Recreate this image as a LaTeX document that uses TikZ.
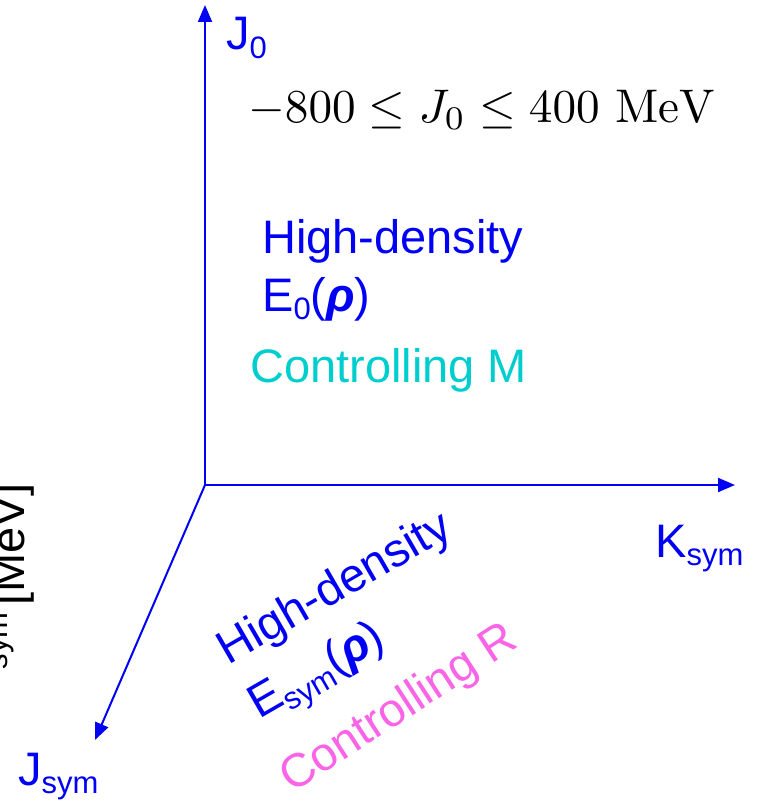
\documentclass[tikz,border=0pt]{standalone}
\usepackage{graphicx}
\usepackage{fontspec}
\newfontfamily\arial{Liberation Sans}
\usetikzlibrary{arrows.meta}
\definecolor{axblue}{RGB}{0,0,245}
\definecolor{txtblue}{RGB}{0,0,245}
\definecolor{cyanM}{RGB}{0,206,206}
\definecolor{pinkR}{RGB}{250,100,230}
\newcommand\sbt[1]{\raisebox{-0.19em}{\fontsize{31}{31}\selectfont #1}}
\begin{document}
\begin{tikzpicture}[x=1pt,y=-1pt,
  axis/.style={draw=axblue, line width=2pt, -{Triangle[length=17pt,width=14pt]}},
  lbl/.style={inner sep=0pt, anchor=base west, font=\arial\fontsize{47}{50}\selectfont}]
\useasboundingbox (0,0) rectangle (757,800);
\clip (0,0) rectangle (757,800);
\coordinate (O) at (205,485);
\coordinate (Jtop) at (205,5);
\coordinate (Kend) at (735,485);
\coordinate (Jsend) at (95,740);
\draw[axis] (O) -- (Jtop);
\draw[axis] (O) -- (Kend);
\draw[axis] (O) -- (Jsend);
\node[lbl, txtblue] (lJ0) at (226,50) {J\sbt{0}};
\node[lbl, txtblue] (lK) at (655,557) {K\sbt{sym}};
\node[lbl, txtblue] (lJs) at (18,785) {J\sbt{sym}};
\node[inner sep=0pt, anchor=base west] (rng) at (248,122) {\scalebox{4.72}{$-800\le J_0\le 400\ \mathrm{MeV}$}};
\node[lbl, txtblue] (hd1) at (262,253) {High-density};
\node[lbl, txtblue] (e01) at (262,311) {E\sbt{0}({\bfseries\itshape ρ})};
\node[lbl, cyanM] (cm) at (250,382) {Controlling M};
\node[lbl, txtblue, rotate=30] (hd2) at (228,666) {High-density};
\node[lbl, txtblue, rotate=30] (es2) at (259,720) {E\sbt{sym}({\bfseries\itshape ρ})};
\node[lbl, pinkR, rotate=33] (cr) at (292,794) {Controlling R};
\node[inner sep=0pt, anchor=base east, rotate=90, font=\arial\fontsize{47}{50}\selectfont] (mev) at (24,483) {[MeV]};
\node[inner sep=0pt, anchor=base east, rotate=90, font=\arial\fontsize{31}{31}\selectfont] (sym) at (8,612) {sym};
\end{tikzpicture}
\end{document}
